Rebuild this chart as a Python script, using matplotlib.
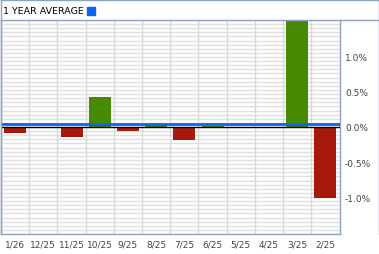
import numpy as np
import matplotlib
matplotlib.use("Agg")
import matplotlib.pyplot as plt
from matplotlib.lines import Line2D
from matplotlib.patches import Rectangle

months = ["1/26", "12/25", "11/25", "10/25", "9/25", "8/25",
          "7/25", "6/25", "5/25", "4/25", "3/25", "2/25"]
returns = [-0.08, 0.0, -0.14, 0.42, -0.05, 0.03,
           -0.18, 0.02, 0.0, 0.0, 1.56, -1.0]
year_avg = 0.046
ytick_vals = [1.0, 0.5, 0.0, -0.5, -1.0]
ytick_labels = ["1.0%", "0.5%", "0.0%", "-0.5%", "-1.0%"]

W, H = 379, 255
fig = plt.figure(figsize=(W / 100, H / 100), dpi=100)
frame_col = "#8ea3bf"
txt_col = "#444444"

# plot area in pixel coords
x0, x1, y_top, y_bot = 1, 339.5, 21, 235
ax = fig.add_axes([x0 / W, (H - y_bot) / H, (x1 - x0) / W, (y_bot - y_top) / H])
ymin, ymax = -1.51, 1.51
ax.set_ylim(ymin, ymax)
ax.set_xlim(-0.5, len(months) - 0.5)

# dense light horizontal grid
for y in np.linspace(ymin, ymax, 53):
    ax.axhline(y, color="#e0e0e0", lw=1, zorder=0)
for i in range(len(months) - 1):
    ax.axvline(i + 0.5, color="#d9d9d9", lw=1, zorder=0.5)

x = np.arange(len(months))
colors = ["#458a00" if v >= 0 else "#a8190c" for v in returns]
ax.bar(x, returns, width=0.78, color=colors, zorder=2, clip_on=True)
ax.axhline(0, color="black", lw=1, zorder=3)
ax.axhline(year_avg, color="#0a64f0", lw=2, zorder=4)

ax.set_xticks(x)
ax.set_xticklabels(months, fontsize=6.5, color=txt_col)
ax.set_yticks(ytick_vals)
ax.set_yticklabels(ytick_labels, fontsize=6.5, color=txt_col)
ax.yaxis.tick_right()
ax.tick_params(axis="both", length=0)
ax.tick_params(axis="y", pad=4)
ax.tick_params(axis="x", pad=4)
for s in ["top", "right", "left", "bottom"]:
    ax.spines[s].set_color(frame_col)
    ax.spines[s].set_linewidth(1)
ax.spines["top"].set_visible(False)

# outer frame and header
def fline(xs, ys):
    fig.add_artist(Line2D([v / W for v in xs], [1 - v / H for v in ys],
                          color=frame_col, lw=1))

fline([0.5, 378.5], [0.5, 0.5])
fline([0.5, 378.5], [20.5, 20.5])
fline([0.5, 0.5], [0.5, 235])
fline([378.5, 378.5], [0.5, 235])

fig.text(3 / W, 1 - 11 / H, "1 YEAR AVERAGE", fontsize=6.8, color="black",
         va="center", ha="left")
fig.add_artist(Rectangle((87 / W, 1 - 16 / H), 8 / W, 8 / H,
                         color="#0a64f0", transform=fig.transFigure))

fig.savefig("out.png", dpi=100)
